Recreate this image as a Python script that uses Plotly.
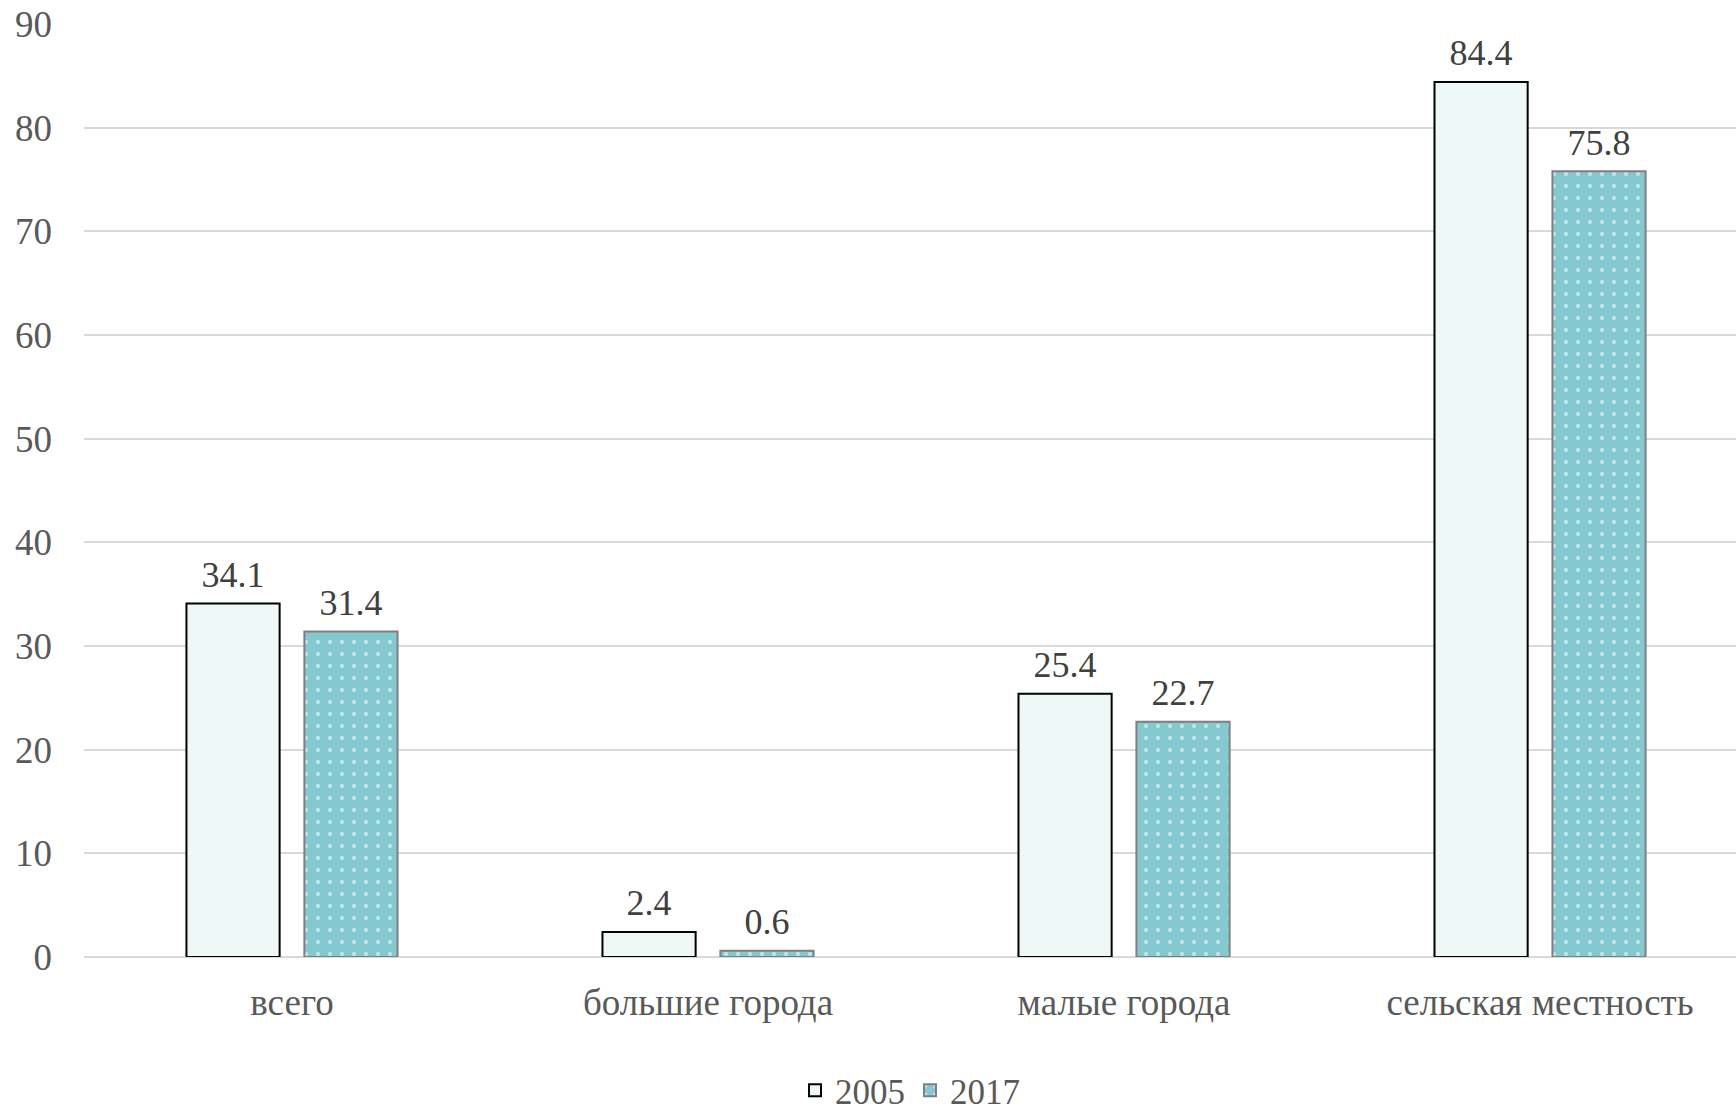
import plotly.graph_objects as go

categories = ["всего", "большие города", "малые города", "сельская местность"]
years = ["2005", "2017"]
values_2005 = [34.1, 2.4, 25.4, 84.4]
values_2017 = [31.4, 0.6, 22.7, 75.8]
y_ticks = [0, 10, 20, 30, 40, 50, 60, 70, 80, 90]

serif = "Liberation Serif"


def label(v):
    return f"<span style='font-size:36px'>{v:.1f}</span><br> "


fig = go.Figure()
fig.add_trace(go.Bar(
    name=years[0], x=categories, y=values_2005,
    text=[label(v) for v in values_2005], textposition="outside",
    textfont=dict(family=serif, size=9, color="#404040"),
    marker=dict(color="#EEF8F7", line=dict(color="#000000", width=2)),
    cliponaxis=False,
))
fig.add_trace(go.Bar(
    name=years[1], x=categories, y=values_2017,
    text=[label(v) for v in values_2017], textposition="outside",
    textfont=dict(family=serif, size=9, color="#404040"),
    marker=dict(color="#84C8D0", line=dict(color="#7F7F7F", width=2),
                pattern=dict(shape=".", fgcolor="#FFFFFF", bgcolor="#84C8D0",
                             size=12, solidity=0.1, fillmode="overlay")),
    cliponaxis=False,
))

fig.update_layout(
    width=1736, height=1115,
    margin=dict(l=84, r=0, t=24, b=158, autoexpand=False),
    paper_bgcolor="white", plot_bgcolor="white",
    barmode="group", bargap=0.433, bargroupgap=0.21,
    font=dict(family=serif, size=36, color="#595959"),
    showlegend=True,
    legend=dict(orientation="h", x=0.5, xanchor="center", y=-0.143, yanchor="middle",
                font=dict(family=serif, size=35, color="#595959"),
                itemwidth=30, traceorder="normal"),
    xaxis=dict(showgrid=False, showline=False, ticks="", ticklabelstandoff=20,
               range=[-0.5, 3.471], automargin=False,
               tickfont=dict(family=serif, size=37, color="#595959")),
    yaxis=dict(range=[0, 90], tickvals=y_ticks, showgrid=True, gridcolor="#D9D9D9",
               gridwidth=2, zeroline=True, zerolinecolor="#D9D9D9", zerolinewidth=2,
               showline=False, ticks="", ticklabelstandoff=31, automargin=False,
               tickfont=dict(family=serif, size=37, color="#595959")),
)

fig.write_html("out.html",
               config={"displayModeBar": False},
               post_script="document.body.style.margin='0';document.body.style.overflow='hidden';")
